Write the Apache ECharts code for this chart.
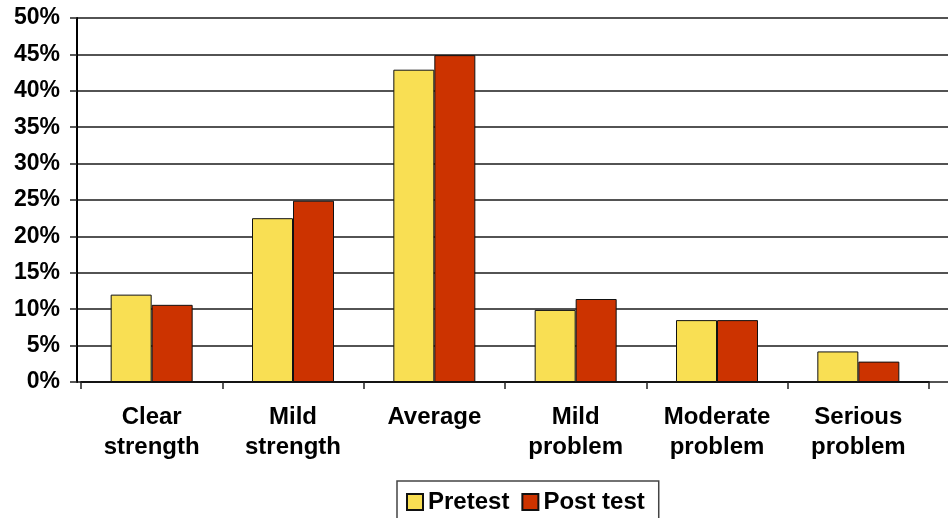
<!DOCTYPE html>
<html>
<head>
<meta charset="utf-8">
<script src="https://cdn.jsdelivr.net/npm/echarts@6/dist/echarts.min.js"></script>
<style>
  html, body { margin: 0; padding: 0; background: #fff; }
  #chart { width: 948px; height: 518px; }
</style>
</head>
<body>
<div id="chart"></div>
<script>
// Rating categories along the horizontal axis
const categories = ['Clear\nstrength', 'Mild\nstrength', 'Average', 'Mild\nproblem', 'Moderate\nproblem', 'Serious\nproblem'];
// Share of ratings in each category (fractions)
const pretest = [0.120, 0.225, 0.429, 0.099, 0.085, 0.042];
const posttest = [0.106, 0.249, 0.449, 0.114, 0.085, 0.028];
const seriesNames = ['Pretest', 'Post test'];

const FONT = '"Liberation Sans", Arial, sans-serif';
const chart = echarts.init(document.getElementById('chart'));

chart.setOption({
  animation: false,
  backgroundColor: '#ffffff',
  grid: [
    // full-width grid carrying the percentage scale and horizontal rules
    { left: 77, right: -4, top: 18, bottom: 136 },
    // grid holding the grouped bars
    { left: 81, width: 848, top: 18, bottom: 136 }
  ],
  xAxis: [
    { gridIndex: 0, type: 'category', data: categories, show: false },
    {
      gridIndex: 1, type: 'category', data: categories,
      axisLine: { show: true, lineStyle: { color: '#000', width: 1.5 } },
      axisTick: { show: true, length: 7, alignWithLabel: false, lineStyle: { color: '#222', width: 1.5 } },
      axisLabel: {
        margin: 20, fontFamily: FONT, fontSize: 24, fontWeight: 'bold',
        color: '#000', lineHeight: 30, interval: 0
      }
    }
  ],
  yAxis: [
    {
      gridIndex: 0, type: 'value', min: 0, max: 0.5, interval: 0.05,
      axisLine: { show: true, lineStyle: { color: '#000', width: 2 } },
      axisTick: { show: true, length: 7, lineStyle: { color: '#222', width: 1.5 } },
      axisLabel: {
        margin: 17, fontFamily: FONT, fontSize: 23, fontWeight: 'bold', color: '#000',
        formatter: v => Math.round(v * 100) + '%'
      },
      splitLine: { show: true, lineStyle: { color: '#1a1a1a', width: 1.5 } }
    },
    { gridIndex: 1, type: 'value', min: 0, max: 0.5, interval: 0.05, show: false, splitLine: { show: false } }
  ],
  legend: {
    data: seriesNames,
    left: 397, top: 481,
    padding: [9, 14, 9, 9],
    itemWidth: 16, itemHeight: 16, itemGap: 12,
    icon: 'rect',
    borderColor: '#444', borderWidth: 1.5,
    textStyle: { fontFamily: FONT, fontSize: 24, fontWeight: 'bold', color: '#000' }
  },
  series: [
    {
      name: seriesNames[0], type: 'bar', xAxisIndex: 1, yAxisIndex: 1,
      data: pretest, barWidth: 41, barGap: '0%',
      itemStyle: { color: '#F9DF53', borderColor: '#111', borderWidth: 1 }
    },
    {
      name: seriesNames[1], type: 'bar', xAxisIndex: 1, yAxisIndex: 1,
      data: posttest, barWidth: 41, barGap: '0%',
      itemStyle: { color: '#CC3300', borderColor: '#111', borderWidth: 1 }
    }
  ]
});
</script>
</body>
</html>
